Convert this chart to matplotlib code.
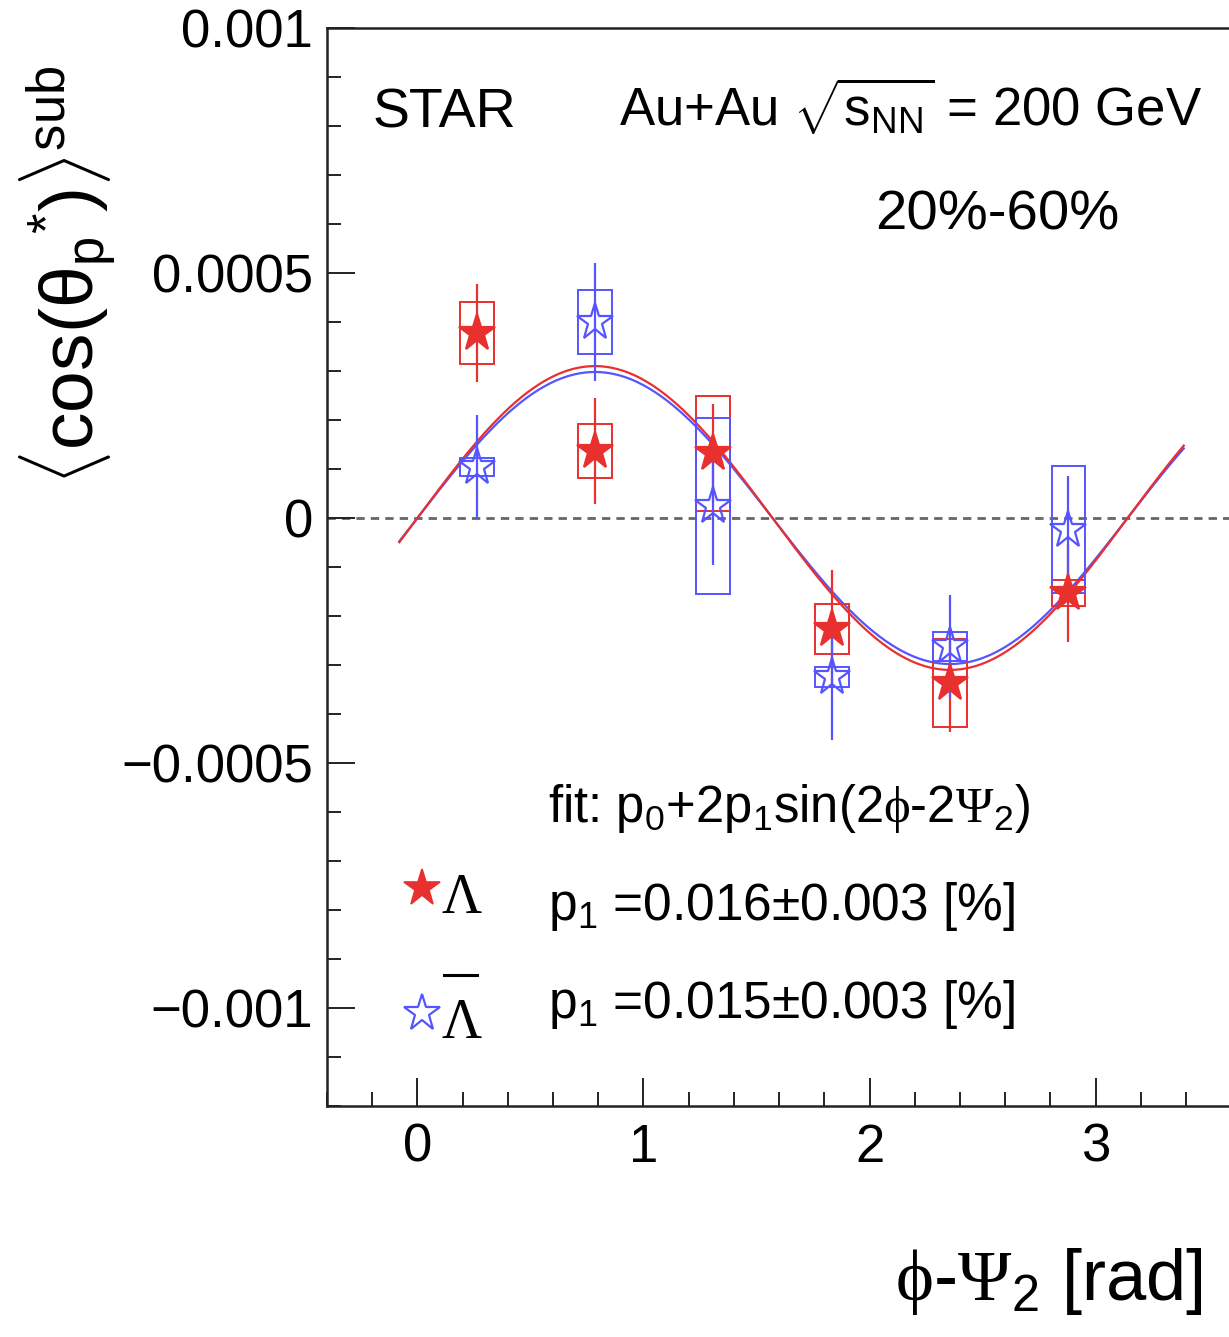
import numpy as np
import matplotlib
matplotlib.use("Agg")
import matplotlib.pyplot as plt
from matplotlib.patches import Rectangle
from matplotlib.ticker import MultipleLocator

# bin centres in phi - Psi2
phi = [0.262, 0.785, 1.309, 1.833, 2.356, 2.880]

# Lambda (filled red stars)
lam = [0.000378, 0.000136, 0.000132, -0.000226, -0.000336, -0.000153]
lam_stat = [0.000100, 0.000108, 0.000100, 0.000120, 0.000100, 0.000100]
lam_sys = [0.000063, 0.000055, 0.000117, 0.000051, 0.000090, 0.000027]

# anti-Lambda (open blue stars)
alam = [0.000104, 0.000400, 0.000025, -0.000324, -0.000262, -0.000024]
alam_stat = [0.000107, 0.000120, 0.000120, 0.000130, 0.000105, 0.000110]
alam_sys = [0.000018, 0.000065, 0.000180, 0.000020, 0.000030, 0.000130]

# fit parameters p0 + 2 p1 sin(2(phi-Psi2))
p0 = [0.0, 0.0]
p1 = [0.000155, 0.000149]
fit_range = (-0.08, 3.39)

yticks = [-0.001, -0.0005, 0, 0.0005, 0.001]
yticklabels = ['\u22120.001', '\u22120.0005', '0', '0.0005', '0.001']
xticks = [0, 1, 2, 3]

red = '#e8302e'
blue = '#5555ff'

plt.rcParams['font.family'] = ['Liberation Sans', 'DejaVu Sans']
plt.rcParams['mathtext.fontset'] = 'custom'
plt.rcParams['mathtext.rm'] = 'Liberation Sans'
plt.rcParams['mathtext.it'] = 'Liberation Sans:italic'
plt.rcParams['mathtext.cal'] = 'Liberation Serif'

W, H = 1229, 1337
fig = plt.figure(figsize=(W / 100, H / 100), dpi=100)
ax = fig.add_axes([327 / W, 1 - 1106 / H, (W - 327) / W, (1106 - 28) / H])

ax.set_xlim(-0.4, 3.59)
ax.set_ylim(-0.0012, 0.001)

ax.axhline(0, color='#666666', lw=2.0, ls=(0, (3, 2.2)), zorder=1)

# fit curves
xf = np.linspace(fit_range[0], fit_range[1], 400)
ax.plot(xf, p0[1] + 2 * p1[1] * np.sin(2 * xf), color=blue, lw=1.6, zorder=2)
ax.plot(xf, p0[0] + 2 * p1[0] * np.sin(2 * xf), color=red, lw=1.6, zorder=2)

hw = 0.075
for vals, stat, sysv, col, face in [(lam, lam_stat, lam_sys, red, red),
                                    (alam, alam_stat, alam_sys, blue, 'none')]:
    for x, y, s in zip(phi, vals, sysv):
        ax.add_patch(Rectangle((x - hw, y - s), 2 * hw, 2 * s, fill=False,
                               edgecolor=col, lw=1.4, zorder=3))
    ax.errorbar(phi, vals, yerr=stat, fmt='none', ecolor=col, elinewidth=1.6,
                capsize=0, zorder=4)
    ax.plot(phi, vals, ls='none', marker='*', ms=28, markerfacecolor=face,
            markeredgecolor=col, markeredgewidth=1.6, zorder=5)

ax.set_xticks(xticks)
ax.xaxis.set_minor_locator(MultipleLocator(0.2))
ax.set_yticks(yticks)
ax.set_yticklabels(yticklabels)
ax.yaxis.set_minor_locator(MultipleLocator(0.0001))
ax.tick_params(which='both', direction='in', width=1.4, labelsize=38, color='#222222')
ax.tick_params(which='major', length=20)
ax.tick_params(which='minor', length=10)
ax.tick_params(axis='y', pad=10)
ax.tick_params(axis='x', pad=12)
ax.spines['right'].set_visible(False)
for s in ['left', 'bottom', 'top']:
    ax.spines[s].set_linewidth(1.8)
    ax.spines[s].set_color('#222222')


def fx(px):
    return px / W


def fy(py):
    return 1 - py / H


fig.text(fx(373), fy(127), 'STAR', fontsize=40)
fig.text(fx(1202), fy(127), r'Au+Au $\sqrt{\mathrm{s}_{\mathrm{NN}}}$ = 200 GeV', fontsize=38, ha='right')
fig.text(fx(875), fy(229), '20%-60%', fontsize=40.5)

fig.text(fx(548), fy(822), r'fit: p$_0$+2p$_1$sin(2$\mathcal{\phi}$-2$\mathcal{\Psi}_2$)', fontsize=36.5)
fig.text(fx(548), fy(920), r'p$_1$ =0.016$\pm$0.003 [%]', fontsize=37)
fig.text(fx(548), fy(1018), r'p$_1$ =0.015$\pm$0.003 [%]', fontsize=37)

# legend markers
fig.add_artist(plt.Line2D([fx(422)], [fy(888)], marker='*', ms=28, ls='none',
                          markerfacecolor=red, markeredgecolor=red, markeredgewidth=1.2))
fig.add_artist(plt.Line2D([fx(422)], [fy(1013)], marker='*', ms=28, ls='none',
                          markerfacecolor='none', markeredgecolor=blue, markeredgewidth=1.6))
fig.text(fx(441), fy(913), '\u039b', fontsize=40, family=['Liberation Serif'])
fig.text(fx(441), fy(1038), '\u039b', fontsize=40, family=['Liberation Serif'])
fig.add_artist(plt.Line2D([fx(444), fx(477)], [fy(975), fy(975)], color='black', lw=2.2))

fig.text(fx(1203), fy(1300), r'$\mathcal{\phi}$-$\mathcal{\Psi}_{2}$ [rad]', fontsize=52, ha='right')
fig.text(fx(68), fy(275), r'$\mathrm{\langle cos(\theta_{p}{}^{*})\rangle^{sub}}$', fontsize=54,
         rotation=90, ha='center', va='center')

fig.savefig('out.png', dpi=100)
